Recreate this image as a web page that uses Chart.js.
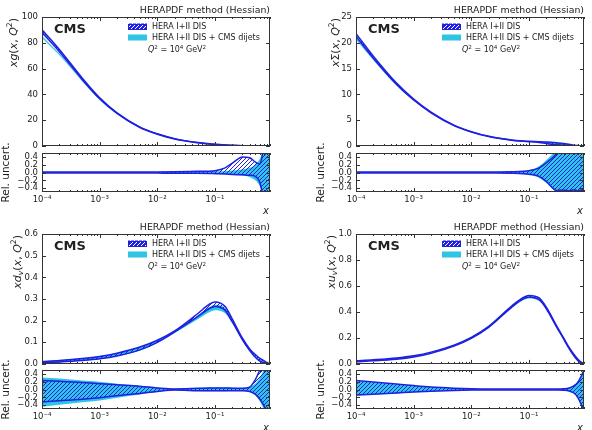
<!DOCTYPE html>
<html><head><meta charset="utf-8">
<script src="https://cdn.jsdelivr.net/npm/chart.js@4.4.1/dist/chart.umd.min.js"></script>
<style>
html,body{margin:0;padding:0;background:#fff;}
#wrap{position:relative;width:592px;height:430px;overflow:hidden;background:#fff;}
canvas{position:absolute;}
</style></head><body><div id="wrap"></div>
<script>
// ---------- data ----------
const xGrid = [1e-4,2e-4,5e-4,1e-3,2e-3,5e-3,0.01,0.02,0.05,0.08,0.1,0.15,0.2,0.3,0.4,0.5,0.6,0.7,0.8,0.9];
const xMajor = [1e-4,1e-3,1e-2,1e-1];
const xMajorLabels = ['10⁻⁴','10⁻³','10⁻²','10⁻¹'];

// xg
const xgHera   = [89,74,52,37,25.5,14.5,9.3,5.6,2.6,1.6,1.25,0.75,0.48,0.2,0.09,0.04,0.015,0.005,0.001,0];
const xgCms    = [84.5,71,50.5,36,25,14.3,9.2,5.55,2.58,1.6,1.24,0.74,0.47,0.19,0.085,0.038,0.014,0.005,0.001,0];
const xgHeraUp = [0.012,0.012,0.011,0.01,0.01,0.012,0.015,0.02,0.03,0.035,0.045,0.12,0.24,0.4,0.38,0.27,0.22,0.6,0.8,1.0];
const xgHeraDn = [-0.012,-0.012,-0.011,-0.01,-0.01,-0.012,-0.015,-0.018,-0.02,-0.025,-0.03,-0.04,-0.05,-0.06,-0.07,-0.1,-0.25,-0.7,-0.9,-1.0];
const xgCmsUp  = [0.01,0.01,0.009,0.008,0.008,0.009,0.01,0.012,0.02,0.025,0.03,0.04,0.05,0.08,0.12,0.2,0.35,0.6,0.8,1.0];
const xgCmsDn  = [-0.01,-0.01,-0.009,-0.008,-0.008,-0.009,-0.01,-0.012,-0.02,-0.025,-0.03,-0.04,-0.05,-0.08,-0.12,-0.2,-0.35,-0.6,-0.8,-1.0];

// x Sigma
const sgHera   = [21.5,17.2,12.1,9.0,6.5,4.0,2.75,1.85,1.15,0.95,0.88,0.75,0.62,0.42,0.27,0.16,0.085,0.04,0.013,0.002];
const sgCms    = [20.8,16.8,11.9,8.9,6.45,3.98,2.74,1.84,1.15,0.95,0.88,0.75,0.62,0.42,0.27,0.16,0.085,0.04,0.013,0.002];
const sgHeraUp = [0.012,0.012,0.011,0.01,0.01,0.01,0.012,0.015,0.02,0.03,0.045,0.12,0.25,0.48,0.8,1,1,1,1,1];
const sgHeraDn = [-0.012,-0.012,-0.011,-0.01,-0.01,-0.01,-0.012,-0.015,-0.02,-0.03,-0.045,-0.1,-0.23,-0.46,-0.45,-0.47,-0.44,-0.47,-0.45,-0.46];
const sgCmsUp  = [0.01,0.01,0.01,0.009,0.009,0.01,0.012,0.016,0.025,0.04,0.06,0.16,0.32,0.6,0.9,1,1,1,1,1];
const sgCmsDn  = [-0.01,-0.01,-0.01,-0.009,-0.009,-0.01,-0.012,-0.016,-0.025,-0.04,-0.06,-0.14,-0.27,-0.55,-0.9,-1,-1,-1,-1,-1];

// x d_v
const dvHera   = [0.009,0.013,0.021,0.03,0.044,0.072,0.105,0.15,0.225,0.265,0.275,0.255,0.2,0.115,0.065,0.035,0.017,0.009,0.003,0.0005];
const dvCms    = [0.009,0.013,0.021,0.03,0.044,0.071,0.103,0.146,0.215,0.25,0.26,0.245,0.195,0.113,0.064,0.034,0.016,0.008,0.003,0.0005];
const dvHeraUp = [0.23,0.21,0.18,0.15,0.12,0.08,0.04,0.015,0.03,0.04,0.04,0.04,0.035,0.03,0.06,0.25,0.5,0.7,0.9,1];
const dvHeraDn = [-0.32,-0.29,-0.25,-0.21,-0.16,-0.1,-0.05,-0.015,-0.03,-0.035,-0.035,-0.03,-0.03,-0.03,-0.05,-0.12,-0.25,-0.4,-0.6,-0.8];
const dvCmsUp  = [0.31,0.28,0.23,0.2,0.15,0.1,0.05,0.02,0.04,0.05,0.05,0.05,0.045,0.04,0.07,0.15,0.3,0.5,0.7,0.9];
const dvCmsDn  = [-0.44,-0.39,-0.33,-0.28,-0.21,-0.13,-0.06,-0.02,-0.04,-0.045,-0.045,-0.045,-0.04,-0.04,-0.06,-0.15,-0.3,-0.5,-0.7,-0.9];

// x u_v
const uvHera   = [0.02,0.027,0.04,0.057,0.085,0.14,0.2,0.285,0.44,0.505,0.52,0.5,0.43,0.29,0.195,0.12,0.068,0.032,0.011,0.002];
const uvCms    = [0.02,0.027,0.04,0.057,0.085,0.14,0.2,0.283,0.435,0.497,0.51,0.49,0.425,0.288,0.194,0.12,0.068,0.032,0.011,0.002];
const uvHeraUp = [0.23,0.19,0.14,0.1,0.065,0.035,0.02,0.015,0.012,0.012,0.012,0.015,0.015,0.015,0.02,0.04,0.09,0.18,0.33,0.5];
const uvHeraDn = [-0.14,-0.12,-0.09,-0.065,-0.045,-0.025,-0.015,-0.012,-0.01,-0.01,-0.01,-0.012,-0.012,-0.015,-0.02,-0.04,-0.09,-0.2,-0.38,-0.6];
const uvCmsUp  = [0.22,0.18,0.13,0.095,0.06,0.033,0.02,0.015,0.012,0.012,0.012,0.015,0.015,0.015,0.02,0.05,0.1,0.2,0.35,0.55];
const uvCmsDn  = [-0.16,-0.13,-0.1,-0.07,-0.05,-0.03,-0.018,-0.013,-0.011,-0.011,-0.011,-0.013,-0.013,-0.016,-0.02,-0.05,-0.1,-0.2,-0.35,-0.55];

// tick labels
const yTicksG = [0,20,40,60,80,100];       const yLabelsG = ['0','20','40','60','80','100'];
const yTicksS = [0,5,10,15,20,25];         const yLabelsS = ['0','5','10','15','20','25'];
const yTicksD = [0,0.1,0.2,0.3,0.4,0.5,0.6]; const yLabelsD = ['0.0','0.1','0.2','0.3','0.4','0.5','0.6'];
const yTicksU = [0,0.2,0.4,0.6,0.8,1.0];   const yLabelsU = ['0.0','0.2','0.4','0.6','0.8','1.0'];
const rTicks  = [-0.4,-0.2,0,0.2,0.4];     const rLabels = ['−0.4','−0.2','0.0','0.2','0.4'];

const titleText = 'HERAPDF method (Hessian)';
const legendHera = 'HERA I+II DIS';
const legendCms = 'HERA I+II DIS + CMS dijets';

// ---------- style ----------
const BLUE = '#1f1fe0', CYAN = '#2ec4e4', INK = '#222', FRAME = '#333';
const FONT = '"DejaVu Sans"';
const X_MIN = 1e-4, X_MAX = 0.9, PW = 228;

function pfont(p, size){ const s = (p.sup||p.sub) ? size*0.7 : size; return (p.i?'italic ':'')+(p.b?'bold ':'')+s.toFixed(2)+'px '+FONT; }
function measureRich(ctx,pieces,size){ let w=0; for(const p of pieces){ ctx.font=pfont(p,size); w+=ctx.measureText(p.t).width; } return w; }
function drawRichAt(ctx,pieces,u,v,size){ for(const p of pieces){ ctx.font=pfont(p,size); const dv = p.sup ? -size*0.4 : (p.sub ? size*0.22 : 0); ctx.fillText(p.t,u,v+dv); u+=ctx.measureText(p.t).width; } }

function hatchPattern(ctx, color, bg){
  const c=document.createElement('canvas'); c.width=4; c.height=4;
  const g=c.getContext('2d');
  if(bg){ g.fillStyle=bg; g.fillRect(0,0,4,4); }
  g.strokeStyle=color; g.lineWidth=1;
  g.beginPath(); g.moveTo(0,4); g.lineTo(4,0); g.moveTo(-1,1); g.lineTo(1,-1); g.moveTo(3,5); g.lineTo(5,3); g.stroke();
  return ctx.createPattern(c,'repeat');
}

function drawFrameTicks(chart){
  const {ctx, chartArea:a, scales} = chart;
  const xs = scales.x, ys = scales.y;
  ctx.save();
  ctx.strokeStyle = FRAME; ctx.lineWidth = 1;
  ctx.beginPath();
  for(let d=-4; d<=-1; d++){
    for(let k=1;k<=9;k++){
      const v = k*Math.pow(10,d);
      if(v < X_MIN*0.999 || v > X_MAX) continue;
      const px = Math.round(xs.getPixelForValue(v))+0.5;
      const len = k===1 ? 4 : 2;
      ctx.moveTo(px, a.bottom); ctx.lineTo(px, a.bottom-len);
      ctx.moveTo(px, a.top); ctx.lineTo(px, a.top+len);
    }
  }
  ys.ticks.forEach(t=>{
    const py = Math.round(ys.getPixelForValue(t.value))+0.5;
    ctx.moveTo(a.left, py); ctx.lineTo(a.left+4, py);
    ctx.moveTo(a.right, py); ctx.lineTo(a.right-4, py);
  });
  ctx.stroke();
  ctx.strokeRect(Math.round(a.left)+0.5, Math.round(a.top)+0.5, Math.round(a.right-a.left)-1, Math.round(a.bottom-a.top)-1);
  ctx.restore();
}

function pts(arr){ return xGrid.map((x,i)=>({x:x, y:arr[i]})); }
function scaled(c, r){ return c.map((v,i)=>v*(1+r[i])); }

function bandSets(cHi,cLo,hHi,hLo,pat){
  return [
    {data:pts(cHi), borderColor:'rgba(0,0,0,0)', borderWidth:0, backgroundColor:'rgba(0,0,0,0)', fill:false, order:2},
    {data:pts(cLo), borderColor:'rgba(0,0,0,0)', borderWidth:0, backgroundColor:CYAN, fill:0, order:2},
    {data:pts(hHi), borderColor:BLUE, borderWidth:1.5, backgroundColor:'rgba(0,0,0,0)', fill:false, order:1},
    {data:pts(hLo), borderColor:BLUE, borderWidth:1.5, backgroundColor:pat, fill:2, order:1}
  ];
}

function makeChart(canvas, datasets, cfg){
  return new Chart(canvas.getContext('2d'), {
    type:'line',
    data:{datasets},
    options:{
      responsive:false, animation:false, devicePixelRatio:1, events:[],
      layout:{padding:{top:cfg.padT, right:cfg.padR, bottom:cfg.padB, left:0}},
      elements:{point:{radius:0}, line:{cubicInterpolationMode:'monotone'}},
      plugins:{legend:{display:false}, tooltip:{enabled:false}, title:{display:false}},
      scales:{
        x:{type:'logarithmic', min:X_MIN, max:X_MAX, display:cfg.showX,
           grid:{display:false, drawTicks:false}, border:{display:false},
           afterBuildTicks:s=>{ s.ticks = xMajor.map(v=>({value:v})); },
           afterFit:s=>{ if(cfg.showX) s.height = cfg.xH; },
           ticks:{callback:(v,i)=>xMajorLabels[i], font:{family:'DejaVu Sans', size:8.5}, color:INK, padding:3, maxRotation:0, minRotation:0, autoSkip:false}},
        y:{type:'linear', min:cfg.yMin, max:cfg.yMax,
           grid:{display:false, drawTicks:false}, border:{display:false},
           afterBuildTicks:s=>{ s.ticks = cfg.yTicks.map(v=>({value:v})); },
           afterFit:s=>{ s.width = cfg.L; },
           ticks:{callback:(v,i)=>cfg.yLabels[i], font:{family:'DejaVu Sans', size:8.5}, color:INK, padding:4, autoSkip:false}}
      }
    },
    plugins:[{id:'deco', afterDraw:c=>{ drawFrameTicks(c); cfg.draw(c); }}]
  });
}

const ylabG = [{t:'xg',i:1},{t:'('},{t:'x',i:1},{t:', '},{t:'Q',i:1},{t:'2',sup:1},{t:')'}];
const ylabS = [{t:'x',i:1},{t:'Σ'},{t:'('},{t:'x',i:1},{t:', '},{t:'Q',i:1},{t:'2',sup:1},{t:')'}];
const ylabD = [{t:'xd',i:1},{t:'v',i:1,sub:1},{t:'('},{t:'x',i:1},{t:', '},{t:'Q',i:1},{t:'2',sup:1},{t:')'}];
const ylabU = [{t:'xu',i:1},{t:'v',i:1,sub:1},{t:'('},{t:'x',i:1},{t:', '},{t:'Q',i:1},{t:'2',sup:1},{t:')'}];
const qLine = [{t:'Q',i:1},{t:'2',sup:1},{t:' = 10'},{t:'4',sup:1},{t:' GeV'},{t:'2',sup:1}];

const panels = [
  {ox:0,   L:42, mTop:0,   mH:156, Tm:17, Bm:146, rTop:140, rH:75, rT:13, rB:52, yMax:100, yTicks:yTicksG, yLabels:yLabelsG,
   hera:xgHera, cms:xgCms, hUp:xgHeraUp, hDn:xgHeraDn, cUp:xgCmsUp, cDn:xgCmsDn, ylab:ylabG, ylabX:13, relX:6},
  {ox:296, L:60, mTop:0,   mH:156, Tm:17, Bm:146, rTop:140, rH:75, rT:13, rB:52, yMax:25, yTicks:yTicksS, yLabels:yLabelsS,
   hera:sgHera, cms:sgCms, hUp:sgHeraUp, hDn:sgHeraDn, cUp:sgCmsUp, cDn:sgCmsDn, ylab:ylabS, ylabX:39, relX:25},
  {ox:0,   L:42, mTop:215, mH:158, Tm:19, Bm:149, rTop:357, rH:73, rT:13, rB:52, yMax:0.6, yTicks:yTicksD, yLabels:yLabelsD,
   hera:dvHera, cms:dvCms, hUp:dvHeraUp, hDn:dvHeraDn, cUp:dvCmsUp, cDn:dvCmsDn, ylab:ylabD, ylabX:17, relX:6},
  {ox:296, L:60, mTop:215, mH:158, Tm:19, Bm:149, rTop:357, rH:73, rT:13, rB:52, yMax:1.0, yTicks:yTicksU, yLabels:yLabelsU,
   hera:uvHera, cms:uvCms, hUp:uvHeraUp, hDn:uvHeraDn, cUp:uvCmsUp, cDn:uvCmsDn, ylab:ylabU, ylabX:35, relX:25}
];

const wrap = document.getElementById('wrap');
function addCanvas(left, top, w, h){
  const c = document.createElement('canvas');
  c.width = w; c.height = h; c.style.left = left+'px'; c.style.top = top+'px'; c.style.width = w+'px'; c.style.height = h+'px';
  wrap.appendChild(c); return c;
}

panels.forEach(p=>{
  const R = p.L + PW;
  const mc = addCanvas(p.ox, p.mTop, 296, p.mH);
  const mctx = mc.getContext('2d');
  const patM = hatchPattern(mctx, BLUE);
  const mainSets = bandSets(scaled(p.cms,p.cUp), scaled(p.cms,p.cDn), scaled(p.hera,p.hUp), scaled(p.hera,p.hDn), patM);
  makeChart(mc, mainSets, {
    padT:p.Tm, padR:296-R, padB:p.mH-p.Bm, showX:false, L:p.L, yMin:0, yMax:p.yMax, yTicks:p.yTicks, yLabels:p.yLabels,
    draw:(c)=>{
      const ctx=c.ctx, a=c.chartArea;
      ctx.save();
      ctx.fillStyle=INK;
      ctx.font='9.4px '+FONT; ctx.textAlign='right'; ctx.textBaseline='middle';
      ctx.fillText(titleText, a.right, a.top-6);
      ctx.font='bold 13px '+FONT; ctx.textAlign='left';
      ctx.fillText('CMS', a.left+12, a.top+12.5);
      const bx = a.left+86, bw=19, bh=6;
      const y1 = a.top+9.5, y2 = a.top+20.5;
      ctx.fillStyle = hatchPattern(ctx, '#ffffff', BLUE);
      ctx.fillRect(bx, y1-bh/2, bw, bh);
      ctx.strokeStyle=BLUE; ctx.lineWidth=1; ctx.strokeRect(bx+0.5, Math.round(y1-bh/2)+0.5, bw-1, bh-1);
      ctx.fillStyle=CYAN; ctx.fillRect(bx, y2-bh/2, bw, bh);
      ctx.fillStyle=INK; ctx.font='8px '+FONT; ctx.textBaseline='middle';
      ctx.fillText(legendHera, a.left+110, y1);
      ctx.fillText(legendCms, a.left+110, y2);
      ctx.textBaseline='alphabetic';
      drawRichAt(ctx, qLine, a.left+106, a.top+32+2.8, 8);
      ctx.translate(p.ylabX, a.top+1);
      ctx.rotate(-Math.PI/2);
      const W = measureRich(ctx, p.ylab, 11);
      drawRichAt(ctx, p.ylab, -W, 11*0.35, 11);
      ctx.restore();
    }
  });
  const rc = addCanvas(p.ox, p.rTop, 296, p.rH);
  const rctx = rc.getContext('2d');
  const patR = hatchPattern(rctx, BLUE);
  const ratioSets = bandSets(p.cUp, p.cDn, p.hUp, p.hDn, patR);
  makeChart(rc, ratioSets, {
    padT:p.rT, padR:296-R, padB:0, showX:true, xH:p.rH-p.rB, L:p.L, yMin:-0.5, yMax:0.5, yTicks:rTicks, yLabels:rLabels,
    draw:(c)=>{
      const ctx=c.ctx, a=c.chartArea;
      ctx.save();
      ctx.fillStyle=INK;
      ctx.font='italic 10px '+FONT; ctx.textAlign='center'; ctx.textBaseline='middle';
      ctx.fillText('x', a.right-4, a.bottom+19);
      ctx.translate(p.relX, (a.top+a.bottom)/2);
      ctx.rotate(-Math.PI/2);
      ctx.font='10.5px '+FONT;
      ctx.fillText('Rel. uncert.', 0, 0);
      ctx.restore();
    }
  });
});
</script>
</body></html>
